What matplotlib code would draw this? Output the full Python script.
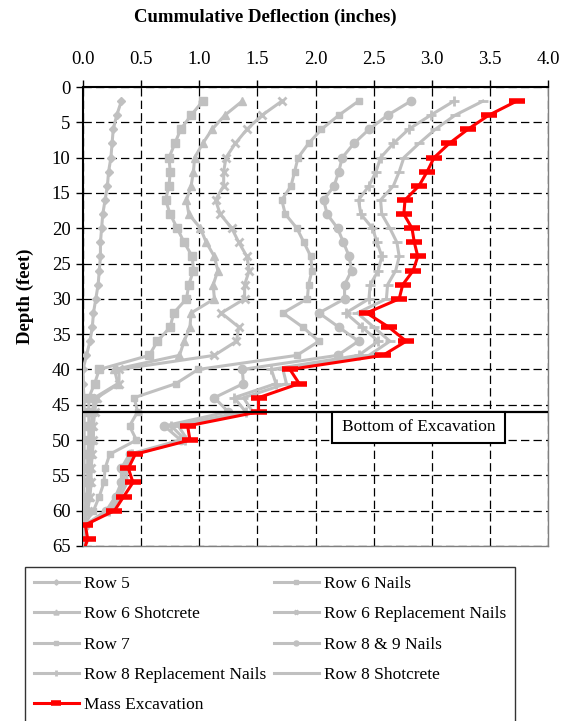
import matplotlib
matplotlib.use('Agg')
import matplotlib.pyplot as plt
from matplotlib.patches import Rectangle

plt.rcParams['font.family'] = ['Liberation Serif', 'DejaVu Serif']
plt.rcParams['lines.scale_dashes'] = False

depth = [2, 4, 6, 8, 10, 12, 14, 16, 18, 20, 22, 24, 26, 28, 30, 32,
         34, 36, 38, 40, 42, 44, 46, 48, 50, 52, 54, 56, 58, 60, 62, 64, 66]

row5 = [0.33, 0.29, 0.26, 0.25, 0.24, 0.22, 0.21, 0.19, 0.17, 0.16, 0.15, 0.15, 0.14, 0.13, 0.11, 0.09,
        0.08, 0.06, 0.03, 0.00, 0.00, 0.01, 0.01, 0.01, 0.01, 0.01, 0.01, 0.01, 0.00, 0.00, 0.00, 0.00, 0.00]
row6_nails = [1.03, 0.93, 0.84, 0.79, 0.74, 0.75, 0.74, 0.71, 0.75, 0.81, 0.87, 0.94, 0.95, 0.91, 0.89, 0.78,
              0.75, 0.64, 0.57, 0.14, 0.10, 0.05, 0.05, 0.05, 0.05, 0.04, 0.04, 0.04, 0.03, 0.02, 0.01, 0.00, 0.00]
row6_shot = [1.37, 1.22, 1.11, 1.03, 0.96, 0.95, 0.93, 0.89, 0.91, 1.01, 1.06, 1.13, 1.16, 1.12, 1.13, 0.93,
             0.92, 0.87, 0.83, 0.27, 0.30, 0.10, 0.08, 0.07, 0.07, 0.06, 0.06, 0.05, 0.05, 0.03, 0.01, 0.00, 0.00]
row6_repl = [1.71, 1.54, 1.41, 1.31, 1.23, 1.21, 1.21, 1.14, 1.18, 1.28, 1.34, 1.41, 1.43, 1.39, 1.39, 1.19,
             1.34, 1.32, 1.13, 0.31, 0.31, 0.12, 0.10, 0.09, 0.09, 0.08, 0.07, 0.07, 0.06, 0.04, 0.01, 0.00, 0.00]
row7 = [2.37, 2.20, 2.05, 1.94, 1.85, 1.82, 1.79, 1.71, 1.74, 1.84, 1.90, 1.96, 1.97, 1.94, 1.93, 1.72,
        1.89, 2.03, 1.84, 0.99, 0.80, 0.44, 0.47, 0.40, 0.46, 0.23, 0.19, 0.18, 0.14, 0.09, 0.01, 0.00, 0.00]
row89_nails = [2.82, 2.62, 2.46, 2.33, 2.23, 2.20, 2.16, 2.07, 2.10, 2.19, 2.24, 2.29, 2.31, 2.25, 2.25, 2.03,
               2.20, 2.37, 2.19, 1.37, 1.38, 1.13, 1.25, 0.70, 0.84, 0.40, 0.33, 0.33, 0.28, 0.20, 0.02, 0.00, 0.00]
row8_repl = [3.19, 2.99, 2.80, 2.67, 2.56, 2.52, 2.46, 2.37, 2.39, 2.49, 2.53, 2.57, 2.54, 2.47, 2.46, 2.26,
             2.40, 2.54, 2.37, 1.62, 1.66, 1.30, 1.40, 0.76, 0.88, 0.42, 0.35, 0.35, 0.30, 0.22, 0.02, 0.00, 0.00]
row8_shot = [3.44, 3.20, 3.03, 2.89, 2.76, 2.72, 2.67, 2.56, 2.57, 2.64, 2.70, 2.72, 2.69, 2.62, 2.61, 2.36,
             2.50, 2.64, 2.46, 1.72, 1.75, 1.38, 1.46, 0.82, 0.90, 0.44, 0.37, 0.38, 0.32, 0.24, 0.03, 0.01, 0.00]
mass_exc = [3.73, 3.49, 3.31, 3.15, 3.02, 2.96, 2.89, 2.77, 2.76, 2.83, 2.85, 2.88, 2.84, 2.75, 2.72, 2.44,
            2.63, 2.78, 2.58, 1.78, 1.86, 1.51, 1.51, 0.90, 0.92, 0.45, 0.39, 0.43, 0.35, 0.27, 0.02, 0.04, 0.00]

bottom_of_excavation = 46

grey = '#c0c0c0'
series = [
    ('Row 5', row5, 'D', 4.5, 1),
    ('Row 6 Nails', row6_nails, 's', 6, 1),
    ('Row 6 Shotcrete', row6_shot, '^', 6, 1),
    ('Row 6 Replacement Nails', row6_repl, 'x', 6, 2),
    ('Row 7', row7, 's', 4, 1),
    ('Row 8 & 9 Nails', row89_nails, 'o', 6, 1),
    ('Row 8 Replacement Nails', row8_repl, '+', 7, 2),
    ('Row 8 Shotcrete', row8_shot, '_', 7, 2),
]

fig = plt.figure(figsize=(5.74, 7.21), dpi=100)
ax = fig.add_axes([83/574, 1 - 546/721, 465/574, 459/721])

handles = {}
for name, vals, mk, ms, mew in series:
    h, = ax.plot(vals, depth, color=grey, lw=2.2, marker=mk, ms=ms, mew=mew,
                 mec=grey, mfc=grey, label=name, zorder=3)
    handles[name] = h
h, = ax.plot(mass_exc, depth, color='#ff0000', lw=2.2, marker='_', ms=11, mew=4,
             label='Mass Excavation', zorder=4)
handles['Mass Excavation'] = h

ax.set_xlim(0, 4)
ax.set_ylim(65, 0)
ax.set_xticks([0, 0.5, 1.0, 1.5, 2.0, 2.5, 3.0, 3.5, 4.0])
ax.set_xticklabels(['0.0', '0.5', '1.0', '1.5', '2.0', '2.5', '3.0', '3.5', '4.0'])
ax.set_yticks(range(0, 66, 5))
ax.xaxis.tick_top()
ax.tick_params(axis='both', labelsize=13.5, direction='out', length=5, width=1, color='black')
ax.tick_params(axis='x', pad=9)
ax.tick_params(axis='y', pad=4)
ax.grid(True, color='black', lw=0.9, linestyle=(0, (6, 3)), zorder=1)
ax.set_axisbelow(True)
for s in ['left', 'top']:
    ax.spines[s].set_linewidth(1.5)
    ax.spines[s].set_color('black')
for s in ['right', 'bottom']:
    ax.spines[s].set_linewidth(1.0)
    ax.spines[s].set_color('#808080')

ax.axhline(bottom_of_excavation, color='black', lw=1.6, zorder=5)
ax.add_patch(Rectangle((2.144, bottom_of_excavation), 1.49, 4.4, facecolor='white',
                       edgecolor='black', lw=1.5, zorder=6))
ax.text(2.144 + 1.49 / 2, bottom_of_excavation + 2.2, 'Bottom of Excavation',
        ha='center', va='center', fontsize=12.5, zorder=7)

fig.text(265/574, 1 - 17/721, 'Cummulative Deflection (inches)', ha='center', va='center',
         fontsize=13.5, fontweight='bold')
fig.text(25/574, 1 - 296/721, 'Depth (feet)', ha='center', va='center', rotation=90,
         fontsize=13.5, fontweight='bold')

order = ['Row 5', 'Row 6 Shotcrete', 'Row 7', 'Row 8 Replacement Nails', 'Mass Excavation',
         'Row 6 Nails', 'Row 6 Replacement Nails', 'Row 8 & 9 Nails', 'Row 8 Shotcrete']
leg = fig.legend([handles[k] for k in order], order, ncol=2, loc='upper left',
                 bbox_to_anchor=(25/574, 1 - 567/721 - 0.01, 490/574, 0.01), mode='expand',
                 fontsize=12.5, frameon=True, fancybox=False, edgecolor='black',
                 handlelength=2.6, handletextpad=0.3, columnspacing=0.6,
                 labelspacing=0.82, borderpad=0.5, markerscale=0.6, borderaxespad=0)
leg.get_frame().set_linewidth(1.0)

fig.savefig('out.png', dpi=100)
